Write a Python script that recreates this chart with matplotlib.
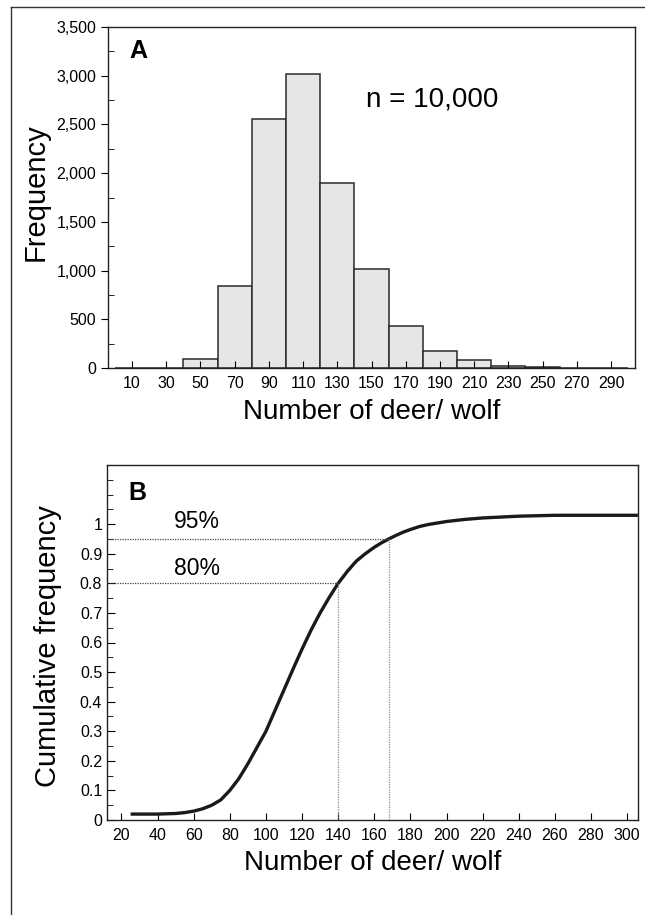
import numpy as np
import matplotlib
matplotlib.use('Agg')
import matplotlib.pyplot as plt
from matplotlib.lines import Line2D
from matplotlib.ticker import MultipleLocator, FuncFormatter

plt.rcParams['font.family'] = ['Liberation Sans', 'DejaVu Sans']

# panel A: histogram of deer per wolf (bin centres, counts)
bin_centres = [10, 30, 50, 70, 90, 110, 130, 150, 170, 190, 210, 230, 250, 270, 290]
bin_counts = [0, 2, 92, 846, 2554, 3014, 1896, 1016, 436, 177, 85, 20, 8, 4, 2]
bin_width = 20

# panel B: cumulative frequency curve
cum_x = [26, 40, 50, 55, 60, 65, 70, 75, 80, 85, 90, 95, 100, 105, 110, 115,
         120, 125, 130, 135, 140, 145, 150, 155, 160, 164, 168, 172, 176, 180,
         185, 190, 200, 210, 220, 240, 260, 280, 305]
cum_y = [0.02, 0.02, 0.022, 0.025, 0.03, 0.038, 0.05, 0.068, 0.1, 0.14, 0.19,
         0.245, 0.3, 0.37, 0.44, 0.51, 0.578, 0.642, 0.7, 0.752, 0.8, 0.84, 0.875,
         0.9, 0.922, 0.937, 0.95, 0.962, 0.973, 0.982, 0.992, 0.999, 1.009,
         1.016, 1.021, 1.027, 1.03, 1.03, 1.03]
pct_levels = [0.80, 0.95]
pct_x = [140, 168]
pct_labels = ['80%', '95%']

fig = plt.figure(figsize=(6.45, 9.15), dpi=100)

# outer frame (top and left edges)
fig.add_artist(Line2D([11 / 645, 11 / 645], [0, 1 - 7 / 915], color='#333333', lw=1.0))
fig.add_artist(Line2D([11 / 645, 1], [1 - 7 / 915, 1 - 7 / 915], color='#333333', lw=1.0))

# ---------- panel A ----------
ax1 = fig.add_axes([108 / 645, 1 - 368 / 915, 527 / 645, 341 / 915])
ax1.bar(bin_centres, bin_counts, width=bin_width, color='#e5e6e8',
        edgecolor='#2a2a2a', linewidth=1.1)
ax1.set_xlim(-4, 304)
ax1.set_ylim(0, 3500)
ax1.set_xticks(bin_centres)
ax1.yaxis.set_major_locator(MultipleLocator(500))
ax1.yaxis.set_minor_locator(MultipleLocator(250))
ax1.yaxis.set_major_formatter(FuncFormatter(lambda v, p: '{:,.0f}'.format(v)))
ax1.tick_params(axis='x', direction='in', length=5, labelsize=11.5, pad=6)
ax1.tick_params(axis='y', which='major', direction='out', length=5, labelsize=11.5)
ax1.tick_params(axis='y', which='minor', direction='in', length=4)
ax1.set_xlabel('Number of deer/ wolf', fontsize=20)
ax1.set_ylabel('Frequency', fontsize=21)
ax1.xaxis.set_label_coords(0.5, -0.092)
ax1.yaxis.set_label_coords(-0.11, 0.516)
ax1.text(0.057, 0.93, 'A', transform=ax1.transAxes, fontsize=18, fontweight='bold',
         ha='center', va='center')
ax1.text(0.615, 0.786, 'n = 10,000', transform=ax1.transAxes, fontsize=20,
         ha='center', va='center')

# ---------- panel B ----------
ax2 = fig.add_axes([107 / 645, 1 - 820 / 915, 531 / 645, 355 / 915])
ax2.plot(cum_x, cum_y, color='#1a1a1a', lw=2.4, solid_joinstyle='round')
ax2.set_xlim(12, 306)
ax2.set_ylim(0, 1.2)
for lev, xv in zip(pct_levels, pct_x):
    ax2.plot([12, xv], [lev, lev], color='#444444', lw=0.9, ls=(0, (1, 1)))
    ax2.plot([xv, xv], [0, lev], color='#888888', lw=0.9, ls=(0, (1, 1)))
ax2.text(62, 0.85, pct_labels[0], fontsize=16.5, ha='center', va='center')
ax2.text(62, 1.008, pct_labels[1], fontsize=16.5, ha='center', va='center')
ax2.text(29, 1.105, 'B', fontsize=18, fontweight='bold', ha='center', va='center')
ax2.set_xticks(np.arange(20, 301, 20))
ax2.set_yticks(np.arange(0, 1.01, 0.1))
ax2.yaxis.set_minor_locator(MultipleLocator(0.05))
ax2.yaxis.set_major_formatter(FuncFormatter(lambda v, p: '0' if v == 0 else ('1' if abs(v - 1) < 1e-9 else '{:.1f}'.format(v))))
ax2.tick_params(axis='x', direction='in', length=5, labelsize=11.5, pad=6)
ax2.tick_params(axis='y', which='major', direction='in', length=6, labelsize=11.5)
ax2.tick_params(axis='y', which='minor', direction='in', length=4)
ax2.set_xlabel('Number of deer/ wolf', fontsize=20)
ax2.set_ylabel('Cumulative frequency', fontsize=21)
ax2.xaxis.set_label_coords(0.5, -0.085)
ax2.yaxis.set_label_coords(-0.085, 0.49)

for ax in (ax1, ax2):
    for s in ax.spines.values():
        s.set_linewidth(1.0)
        s.set_color('#222222')

fig.savefig('out.png', dpi=100)
